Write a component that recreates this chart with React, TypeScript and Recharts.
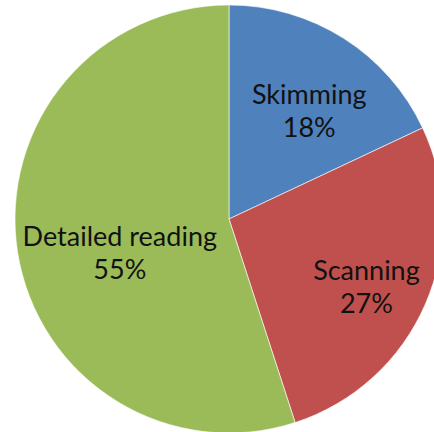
import React from "react";
import { PieChart, Pie, Cell } from "recharts";

const CATEGORIES = ["Skimming", "Scanning", "Detailed reading"];
const VALUES = [18, 27, 55];
const COLORS = ["#4F81BD", "#C0504D", "#9BBB59"];

const data = CATEGORIES.map((name, i) => ({ name, value: VALUES[i] }));

const RADIAN = Math.PI / 180;
const FONT_SIZE = 27;

// rough "best fit" placement like the office chart: the outer edge of the
// text block sits near the rim, the vertical position follows the mid angle
const renderLabel = (props: any) => {
  const { cx, cy, midAngle, outerRadius, name, percent } = props;
  const cos = Math.cos(-midAngle * RADIAN);
  const sin = Math.sin(-midAngle * RADIAN);
  const halfW = name.length * 4.9;
  const x = cx + cos * (outerRadius * 0.883 - halfW);
  const y = cy + sin * outerRadius * 0.663 + outerRadius * 0.056;
  return (
    <text
      x={x}
      y={y}
      textAnchor="middle"
      fill="#111"
      fontSize={FONT_SIZE}
      fontFamily="Lato, 'Noto Sans', sans-serif"
    >
      <tspan x={x} dy={-7}>
        {name}
      </tspan>
      <tspan x={x} dy={33}>
        {`${Math.round(percent * 100)}%`}
      </tspan>
    </text>
  );
};

export default function App() {
  return (
    <div style={{ position: "absolute", left: 0, top: 0, background: "#fff" }}>
      <PieChart width={434} height={432} margin={{ top: 0, right: 0, bottom: 0, left: 0 }}>
        <Pie
          data={data}
          dataKey="value"
          nameKey="name"
          cx={229}
          cy={219}
          outerRadius={214}
          startAngle={90}
          endAngle={-270}
          stroke="#ffffff"
          strokeWidth={0.6}
          label={renderLabel}
          labelLine={false}
          isAnimationActive={false}
        >
          {data.map((entry, index) => (
            <Cell key={`cell-${index}`} fill={COLORS[index % COLORS.length]} />
          ))}
        </Pie>
      </PieChart>
    </div>
  );
}
